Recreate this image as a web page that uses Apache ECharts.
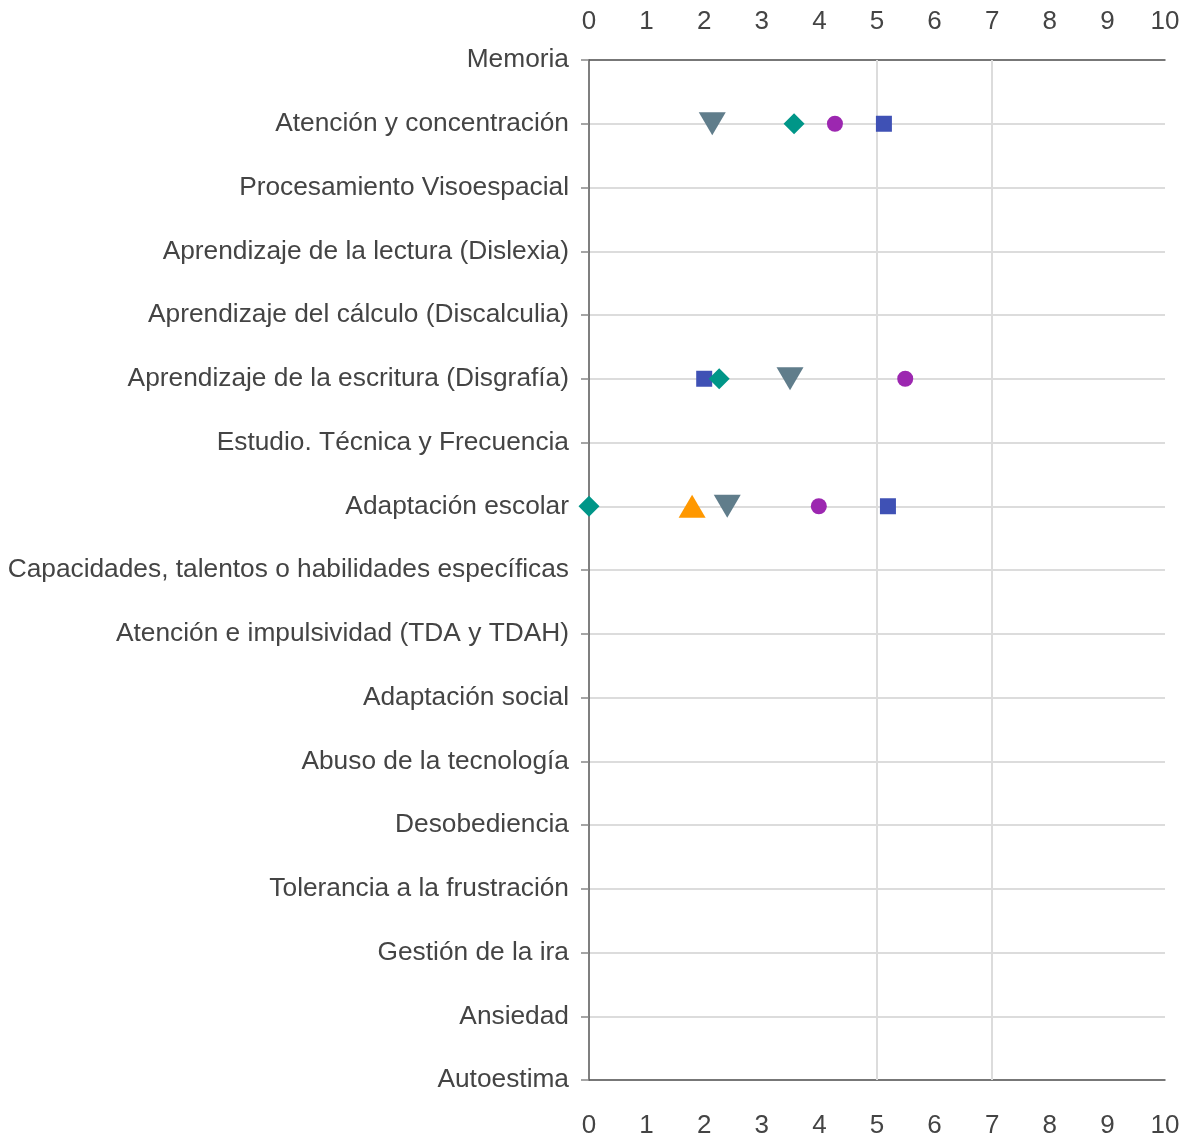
<!DOCTYPE html>
<html>
<head>
<meta charset="utf-8">
<script src="https://cdn.jsdelivr.net/npm/echarts@6/dist/echarts.min.js"></script>
<style>
  html, body { margin: 0; padding: 0; background: #fff; }
  #chart { width: 1183px; height: 1139px; }
</style>
</head>
<body>
<div id="chart"></div>
<script>
// categorias del eje vertical (de arriba a abajo)
var categorias = [
  'Memoria',
  'Atención y concentración',
  'Procesamiento Visoespacial',
  'Aprendizaje de la lectura (Dislexia)',
  'Aprendizaje del cálculo (Discalculia)',
  'Aprendizaje de la escritura (Disgrafía)',
  'Estudio. Técnica y Frecuencia',
  'Adaptación escolar',
  'Capacidades, talentos o habilidades específicas',
  'Atención e impulsividad (TDA y TDAH)',
  'Adaptación social',
  'Abuso de la tecnología',
  'Desobediencia',
  'Tolerancia a la frustración',
  'Gestión de la ira',
  'Ansiedad',
  'Autoestima'
];

// valores por serie: [valor, categoria]
var serieCuadrado = [[5.12, 'Atención y concentración'], [2.0, 'Aprendizaje de la escritura (Disgrafía)'], [5.19, 'Adaptación escolar']];
var serieCirculo = [[4.27, 'Atención y concentración'], [5.49, 'Aprendizaje de la escritura (Disgrafía)'], [3.99, 'Adaptación escolar']];
var serieRombo = [[3.56, 'Atención y concentración'], [2.26, 'Aprendizaje de la escritura (Disgrafía)'], [0, 'Adaptación escolar']];
var serieTrianguloAbajo = [[2.14, 'Atención y concentración'], [3.49, 'Aprendizaje de la escritura (Disgrafía)'], [2.4, 'Adaptación escolar']];
var serieTrianguloArriba = [[1.79, 'Adaptación escolar']];

// lineas verticales de referencia
var lineasRef = [5, 7];

var textoEje = { color: '#444', fontSize: 26, fontFamily: 'Liberation Sans, Arial, sans-serif' };

var chart = echarts.init(document.getElementById('chart'));

var option = {
  backgroundColor: '#fff',
  animation: false,
  grid: { left: 589, right: 18, top: 60, bottom: 59, containLabel: false, outerBoundsMode: 'none' },
  xAxis: [
    {
      type: 'value', position: 'bottom', min: 0, max: 10, interval: 1,
      axisLine: { show: true, onZero: false, lineStyle: { color: '#555', width: 1.5 } },
      axisTick: { show: false },
      splitLine: { show: false },
      axisLabel: Object.assign({ margin: 33 }, textoEje)
    },
    {
      type: 'value', position: 'top', min: 0, max: 10, interval: 1,
      axisLine: { show: true, onZero: false, lineStyle: { color: '#555', width: 1.5 } },
      axisTick: { show: false },
      splitLine: { show: false },
      axisLabel: Object.assign({ margin: 25 }, textoEje)
    }
  ],
  yAxis: {
    type: 'category', data: categorias, inverse: true, boundaryGap: false,
    axisLine: { show: true, lineStyle: { color: '#555', width: 1.5 } },
    axisTick: { show: true, length: 8, lineStyle: { color: '#888', width: 1.5 } },
    axisLabel: Object.assign({ margin: 20, interval: 0, padding: [3, 0, 0, 0] }, textoEje, { fontSize: 26.3 }),
    splitLine: { show: true, lineStyle: { color: '#dcdcdc', width: 2 } }
  },
  series: [
    {
      name: 'cuadrado', type: 'scatter', symbol: 'rect', symbolSize: 16,
      itemStyle: { color: '#3f51b5', opacity: 1 }, data: serieCuadrado, z: 5,
      markLine: {
        silent: true, symbol: 'none', label: { show: false },
        lineStyle: { color: '#dcdcdc', width: 2, type: 'solid' },
        data: lineasRef.map(function (v) { return { xAxis: v }; }),
        z: 1
      }
    },
    {
      name: 'circulo', type: 'scatter', symbol: 'circle', symbolSize: 16,
      itemStyle: { color: '#9c27b0', opacity: 1 }, data: serieCirculo, z: 5
    },
    {
      name: 'rombo', type: 'scatter', symbol: 'diamond', symbolSize: 21,
      itemStyle: { color: '#009688', opacity: 1 }, data: serieRombo, z: 5
    },
    {
      name: 'triangulo abajo', type: 'scatter', symbol: 'triangle', symbolRotate: 180, symbolSize: [27, 23],
      itemStyle: { color: '#607d8b', opacity: 1 }, data: serieTrianguloAbajo, z: 5
    },
    {
      name: 'triangulo arriba', type: 'scatter', symbol: 'triangle', symbolSize: [27, 23],
      itemStyle: { color: '#ff9800', opacity: 1 }, data: serieTrianguloArriba, z: 5
    }
  ]
};

chart.setOption(option);
</script>
</body>
</html>
